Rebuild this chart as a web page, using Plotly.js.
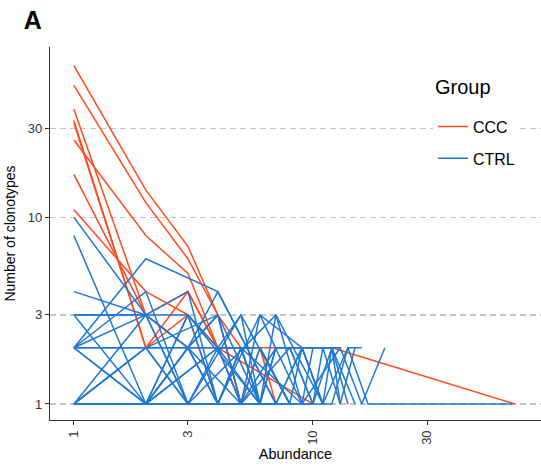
<!DOCTYPE html>
<html>
<head>
<meta charset="utf-8">
<script src="https://cdn.plot.ly/plotly-3.0.1.min.js"></script>
<style>html,body{margin:0;padding:0;background:#fff;}#chart{width:541px;height:468px;}</style>
</head>
<body>
<div id="chart"></div>
<script>
// Abundance (x) and number of clonotypes (y), one array per sample
const cccAbundance = [
  [1, 2, 3, 4, 5, 6],
  [1, 2, 3, 4, 5],
  [1, 2, 3, 4, 6, 8],
  [1, 2, 3, 4, 5],
  [1, 2, 3, 4, 5, 6, 7],
  [1, 2, 3, 4, 5],
  [1, 2, 3, 4, 10],
  [1, 2, 3, 4, 6, 12, 70]
];
const cccCount = [
  [65, 14, 7, 3, 2, 1],
  [51, 12, 6, 3, 1],
  [26, 8, 5, 2, 2, 1],
  [38, 3, 4, 2, 1],
  [33, 2, 4, 2, 1, 2, 1],
  [32, 2, 3, 1, 1],
  [17, 3, 2, 2, 1],
  [11, 4, 3, 2, 2, 2, 1]
];
const ctrlAbundance = [
  [1, 2, 3, 4, 5],
  [1, 2, 3, 5],
  [1, 2, 4, 7, 9],
  [1, 2, 3, 4, 6, 8],
  [1, 2, 3, 4, 5, 7],
  [1, 2, 3, 6],
  [1, 3, 4, 5, 8],
  [1, 2, 3, 4, 5, 6],
  [1, 2, 3, 4, 7],
  [1, 2, 3, 5, 6, 9],
  [1, 2, 4, 6, 7, 8, 10, 12, 13],
  [1, 2, 3, 7, 11],
  [1, 2, 3, 4, 5, 6, 8, 9, 11, 14, 17, 68],
  [1, 2, 3, 5, 6, 7, 13, 16, 20],
  [1, 3, 4, 5, 6, 7, 9, 10, 12, 15],
  [1, 2, 4, 5, 8, 10, 11, 13, 15],
  [1, 2, 3, 4, 6, 9, 11, 12, 14],
  [1, 2, 3, 5, 7, 8, 10, 12],
  [1, 2, 3, 4, 5, 9, 13],
  [1, 2, 4, 6, 8, 12, 14, 16],
  [1, 3, 4, 5, 7, 9, 11],
  [1, 2, 3, 5, 6, 10]
];
const ctrlCount = [
  [10, 3, 2, 1, 1],
  [8, 1, 2, 1],
  [2, 6, 4, 1, 2],
  [4, 3, 2, 3, 1, 1],
  [3, 3, 1, 2, 1, 1],
  [3, 1, 3, 1],
  [3, 3, 2, 3, 1],
  [2, 3, 4, 1, 2, 1],
  [2, 1, 2, 4, 1],
  [2, 2, 1, 1, 3, 1],
  [2, 1, 2, 1, 2, 2, 2, 2, 1],
  [2, 4, 1, 3, 1],
  [1, 1, 2, 1, 1, 2, 1, 2, 1, 2, 1, 1],
  [1, 3, 1, 3, 1, 2, 2, 1, 2],
  [1, 1, 1, 2, 1, 3, 1, 2, 2, 1],
  [1, 2, 3, 1, 2, 1, 2, 1, 2],
  [1, 1, 3, 1, 3, 2, 1, 2, 1],
  [1, 2, 1, 1, 2, 2, 1, 2],
  [1, 1, 1, 1, 2, 1, 2],
  [1, 1, 2, 2, 1, 1, 2, 2],
  [2, 2, 3, 1, 1, 2, 1],
  [1, 2, 2, 2, 1, 1]
];
const groups = ['CCC', 'CTRL'];
const tickVals = [1, 3, 10, 30];
const tickText = ['1', '3', '10', '30'];

const colors = {CCC: '#FF4A1C', CTRL: '#1F78D1'};
const traces = [];
function addGroup(name, xs, ys) {
  xs.forEach((x, i) => {
    traces.push({
      type: 'scatter', mode: 'lines', x: x, y: ys[i],
      name: name, legendgroup: name, showlegend: i === 0,
      line: {color: colors[name], width: 1.5},
      hoverinfo: 'skip'
    });
  });
}
addGroup(groups[0], cccAbundance, cccCount);
addGroup(groups[1], ctrlAbundance, ctrlCount);

const font = 'Liberation Sans, Arial, sans-serif';
const layout = {
  width: 541, height: 468,
  margin: {l: 50, r: 0, t: 47, b: 48},
  paper_bgcolor: '#fff', plot_bgcolor: '#fff',
  font: {family: font, color: '#222', size: 13},
  title: {text: '<b>A</b>', font: {family: font, size: 25, color: '#000'},
          xref: 'container', yref: 'container', x: 0.044, xanchor: 'left', y: 0.957, yanchor: 'middle'},
  showlegend: true,
  legend: {
    x: 0.78, y: 0.832, xanchor: 'left', yanchor: 'top',
    bgcolor: '#fff', borderwidth: 0,
    font: {size: 16, color: '#000', family: font},
    tracegroupgap: 8
  },
  annotations: [{
    text: 'Group', xref: 'paper', yref: 'paper', x: 0.78, y: 0.892,
    xanchor: 'left', yanchor: 'middle', showarrow: false,
    font: {size: 20, color: '#000', family: font}, bgcolor: '#fff'
  }],
  xaxis: {
    type: 'log', range: [-0.100, 1.954],
    tickvals: tickVals, ticktext: tickText, tickangle: -90,
    ticks: 'outside', ticklen: 4, tickcolor: '#333', tickwidth: 1,
    tickfont: {size: 13, color: '#333'},
    showline: true, linecolor: '#333', linewidth: 1.2,
    showgrid: false, zeroline: false,
    title: {text: 'Abundance', font: {size: 14.5, color: '#000'}, standoff: 5}
  },
  yaxis: {
    type: 'log', range: [-0.086, 1.913],
    tickvals: tickVals, ticktext: tickText,
    ticks: 'outside', ticklen: 4, tickcolor: '#333', tickwidth: 1,
    tickfont: {size: 13, color: '#333'},
    showline: true, linecolor: '#333', linewidth: 1.2,
    showgrid: true, gridcolor: '#C4C4C4', griddash: '6px,4px', gridwidth: 1.2,
    zeroline: false,
    title: {text: 'Number of clonotypes', font: {size: 14, color: '#000'}, standoff: 8}
  }
};
Plotly.newPlot('chart', traces, layout, {displayModeBar: false, staticPlot: true});
</script>
</body>
</html>
